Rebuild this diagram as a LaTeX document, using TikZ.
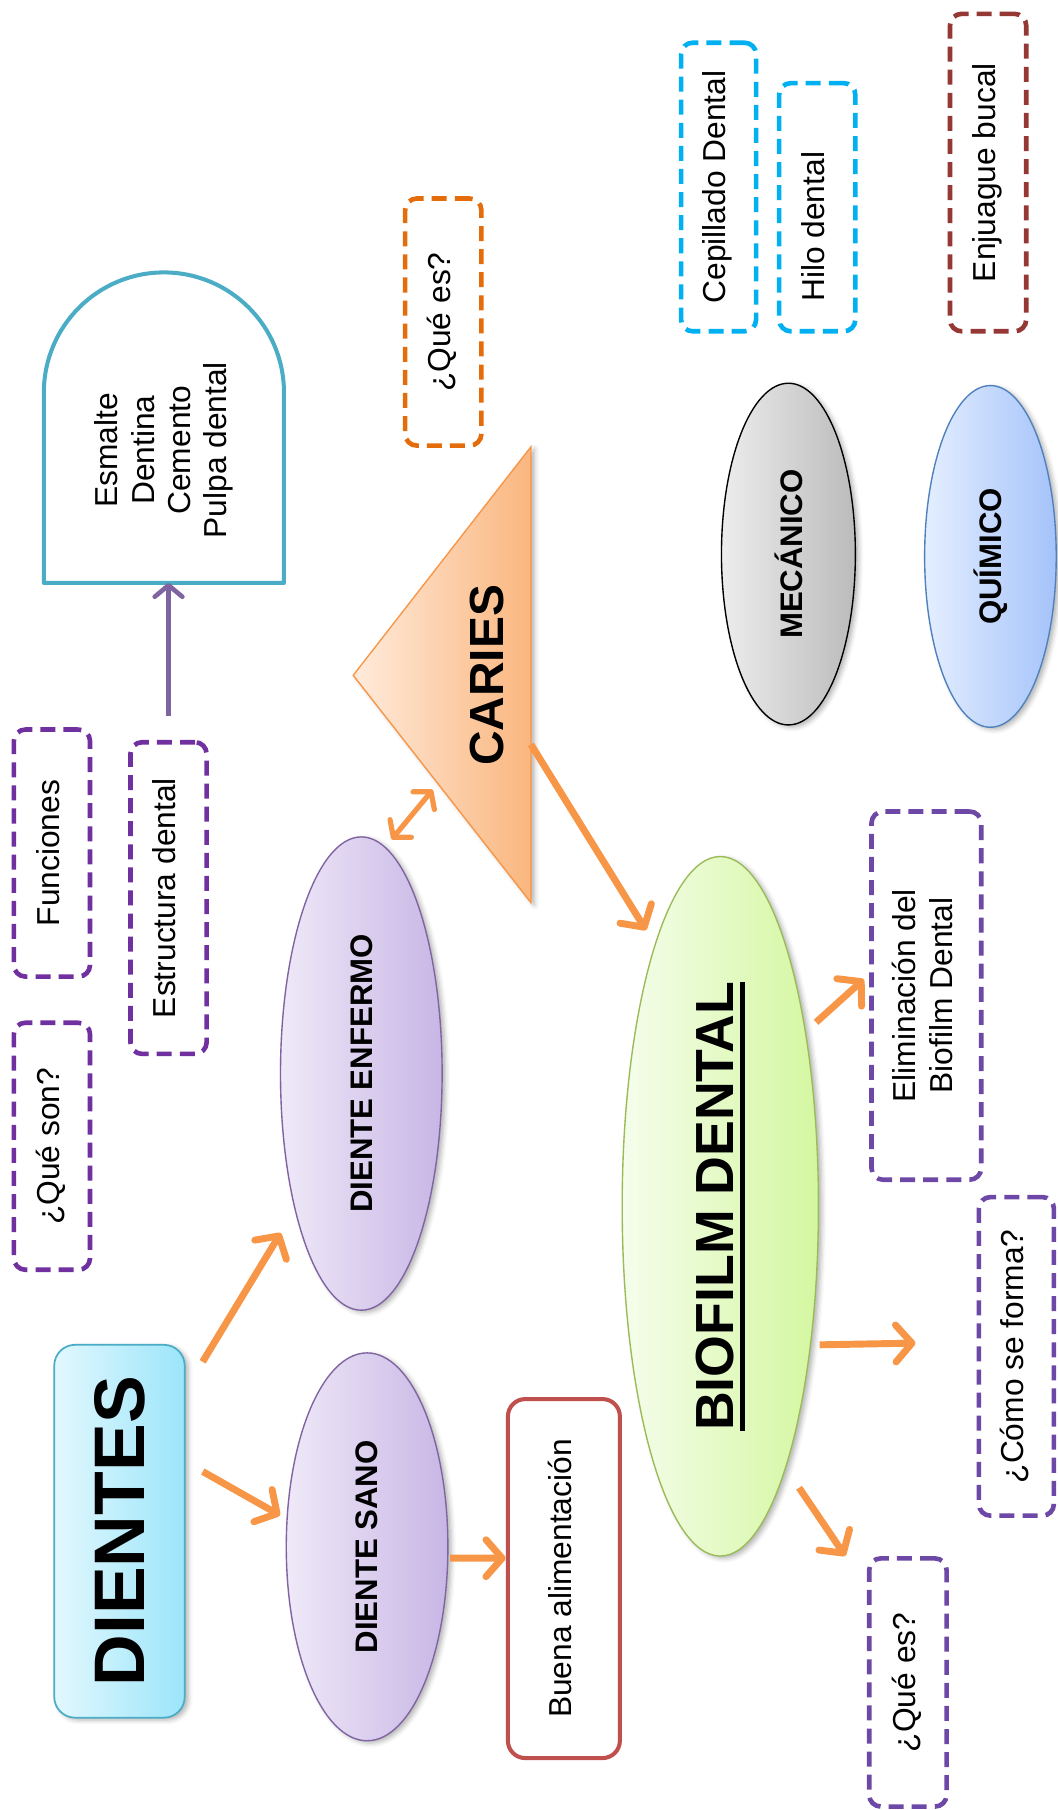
\documentclass[tikz,border=0pt]{standalone}
\usepackage{fontspec}
\setmainfont{Liberation Sans}
\usepackage{graphicx}
\usetikzlibrary{shapes.geometric,arrows.meta,calc,shadows.blur}
\definecolor{qpurple}{HTML}{7030A0}
\definecolor{qpurpleb}{HTML}{6E48A6}
\definecolor{qorange}{HTML}{E46C0A}
\definecolor{qcyan}{HTML}{00B0F0}
\definecolor{qdred}{HTML}{953735}
\definecolor{qred}{HTML}{C0504D}
\definecolor{qteal}{HTML}{4BACC6}
\definecolor{arrorange}{HTML}{F79646}
\definecolor{arrpurple}{HTML}{8064A2}
\definecolor{lavL}{HTML}{EFE9F8}
\definecolor{lavR}{HTML}{C8B6E5}
\definecolor{cyL}{HTML}{E2F8FE}
\definecolor{cyR}{HTML}{9CE5FA}
\definecolor{grL}{HTML}{F5FDEC}
\definecolor{grR}{HTML}{D4F7A0}
\definecolor{grB}{HTML}{9BBB59}
\definecolor{orL}{HTML}{FFEBDC}
\definecolor{orR}{HTML}{FAB67E}
\definecolor{gyL}{HTML}{EDEDED}
\definecolor{gyR}{HTML}{BBBBBB}
\definecolor{blL}{HTML}{E4EEFF}
\definecolor{blR}{HTML}{A5C3FA}
\definecolor{blB}{HTML}{4F81BD}
\newcommand\rtxt[3]{\rotatebox{90}{\fontsize{#1pt}{#2pt}\selectfont\begin{tabular}{@{}c@{}}#3\end{tabular}}}
\newcommand\rbold[2]{\rotatebox{90}{\fontsize{#1pt}{#1pt}\selectfont\bfseries #2}}
\newcommand\thul[1]{\setbox0=\hbox{#1}\vtop{\copy0\kern5pt\hrule height 4pt}}
\begin{document}
\begin{tikzpicture}[x=1pt,y=-1pt,
  every node/.style={inner sep=0pt, outer sep=0pt},
  ob/.tip={Straight Barb[length=14pt,width=32pt,round]},
  sb/.tip={Straight Barb[length=10pt,width=24pt,round]},
  qbox/.style={draw=#1, line width=4pt, dash pattern=on 13pt off 7pt, rounded corners=10pt, fill=white},
  shad/.style={blur shadow={shadow xshift=3pt, shadow yshift=-2pt, shadow blur radius=4pt, shadow opacity=30}},
  ell/.style={ellipse, line width=1.2pt, shad},
  arr/.style={draw=arrorange, line width=6pt, -ob},
  arrd/.style={draw=arrorange, line width=4.5pt, sb-sb},
  parr/.style={draw=arrpurple, line width=4pt, -sb}
]
\useasboundingbox (0,0) rectangle (916,1568);

% tooth outline and its text
\coordinate (archbase) at (142,505);
\draw[draw=qteal, line width=3.5pt, line join=round]
  (38,505) -- (38,340) .. controls (38,282.6) and (84.6,236) .. (142,236)
  .. controls (199.4,236) and (246,282.6) .. (246,340) -- (246,505) -- cycle;
\node (arch) at (143,390) {\rtxt{27.5}{31.5}{Esmalte\\Dentina\\Cemento\\Pulpa dental}};

% dashed question boxes
\node[qbox=qpurple, minimum width=66pt, minimum height=214pt] (func) at (45,739) {\rtxt{27.5}{31.5}{Funciones}};
\node[qbox=qpurple, minimum width=66pt, minimum height=214pt] (queson) at (45,993) {\rtxt{27.5}{31.5}{¿Qué son?}};
\node[qbox=qpurple, minimum width=66pt, minimum height=270pt] (estr) at (146,778) {\rtxt{27.5}{31.5}{Estructura dental}};
\node[qbox=qorange, minimum width=66pt, minimum height=214pt] (quees1) at (384,279) {\rtxt{27.5}{31.5}{¿Qué es?}};
\node[qbox=qcyan, minimum width=65pt, minimum height=250pt] (cepi) at (622.5,162) {\rtxt{27.5}{31.5}{Cepillado Dental}};
\node[qbox=qcyan, minimum width=66pt, minimum height=215pt] (hilo) at (708,179.5) {\rtxt{27.5}{31.5}{Hilo dental\hspace*{34pt}}};
\node[qbox=qdred, minimum width=66pt, minimum height=275pt] (enju) at (856,149.5) {\rtxt{27.5}{31.5}{Enjuague bucal}};
\node[qbox=qpurpleb, minimum width=95pt, minimum height=319pt] (elim) at (802.5,862.5) {\rtxt{27.5}{32}{Eliminación del\\Biofilm Dental}};
\node[qbox=qpurpleb, minimum width=65pt, minimum height=276pt] (como) at (880.5,1175) {\rtxt{27.5}{31.5}{¿Cómo se forma?}};
\node[qbox=qpurpleb, minimum width=67pt, minimum height=215pt] (quees2) at (786.5,1457.5) {\rtxt{27.5}{31.5}{¿Qué es?}};

% solid boxes
\node[draw=qred, line width=3.5pt, rounded corners=15pt, fill=white, minimum width=97pt, minimum height=311pt] (buena) at (488.5,1367.5) {\rtxt{27.5}{31.5}{Buena alimentación}};
\node[draw=qteal, line width=1.5pt, rounded corners=18pt, left color=cyL, right color=cyR, shad, minimum width=113pt, minimum height=323pt] (dientes) at (103.5,1326.5) {\rbold{62}{DIENTES}};

% ellipses
\node[ell, draw=arrpurple, left color=lavL, right color=lavR, minimum width=140pt, minimum height=410pt] (enf) at (313,930) {\rbold{27}{DIENTE ENFERMO}};
\node[ell, draw=arrpurple, left color=lavL, right color=lavR, minimum width=140pt, minimum height=336pt] (sano) at (318,1340) {\rbold{27}{DIENTE SANO}};
\node[ell, draw=grB, left color=grL, right color=grR, minimum width=170pt, minimum height=606pt] (bio) at (624,1045) {\rbold{46.5}{\thul{BIOFILM DENTAL}}};
\node[ell, draw=black, left color=gyL, right color=gyR, minimum width=116pt, minimum height=296pt] (meca) at (683,480) {\rbold{27}{MECÁNICO}};
\node[ell, draw=blB, left color=blL, right color=blR, minimum width=114pt, minimum height=296pt] (quim) at (858,482) {\rbold{27}{QUÍMICO}};

% caries triangle
\coordinate (triL) at (306,585);
\coordinate (triT) at (460,387);
\coordinate (triB) at (460,782);
\path[draw=arrorange, line width=1.2pt, left color=orL, right color=orR, shad] (triL) -- (triT) -- (triB) -- cycle;
\node (caries) at (422,585) {\rbold{41.5}{CARIES}};

% connectors
\draw[arr, shorten <=30pt, shorten >=24pt] (dientes.65.9) -- (enf.244);
\draw[arr, shorten <=18pt, shorten >=7pt] (dientes.47) -- (sano.161);
\draw[arr, shorten <=2pt, shorten >=2pt] (sano.352) -- (buena.160);
\draw[arrd, shorten <=9pt, shorten >=7pt] (enf.84) -- ($(triL)!0.476!(triB)$);
\draw[arr, shorten >=15pt] ($(triT)!0.653!(triB)$) -- (bio.104);
\draw[arr, shorten <=12.5pt, shorten >=9pt] (bio.64) -- (elim.157);
\draw[arr, shorten <=8pt, shorten >=55pt] (bio.303.6) -- (como.159.7);
\draw[arr, shorten <=21pt, shorten >=37pt] (bio.284) -- (quees2.113.2);
\draw[parr, shorten <=23pt] (estr.north) -- (estr.north |- archbase);
\end{tikzpicture}
\end{document}
